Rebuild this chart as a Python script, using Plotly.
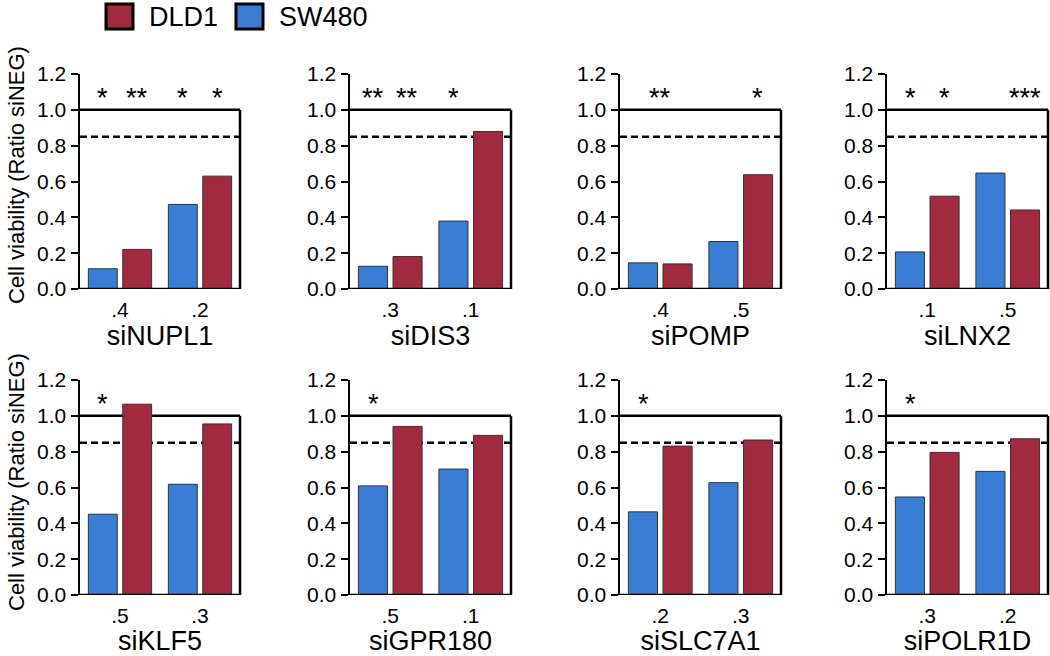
import plotly.graph_objects as go

# ---------------- data ----------------
genes = ["siNUPL1", "siDIS3", "siPOMP", "siLNX2",
         "siKLF5", "siGPR180", "siSLC7A1", "siPOLR1D"]
doses = [[".4", ".2"], [".3", ".1"], [".4", ".5"], [".1", ".5"],
         [".5", ".3"], [".5", ".1"], [".2", ".3"], [".3", ".2"]]
sw480 = [[0.113, 0.472], [0.127, 0.379], [0.146, 0.265], [0.207, 0.647],
         [0.451, 0.618], [0.609, 0.703], [0.464, 0.627], [0.547, 0.690]]
dld1 = [[0.221, 0.630], [0.181, 0.879], [0.140, 0.638], [0.518, 0.441],
        [1.065, 0.955], [0.941, 0.891], [0.831, 0.865], [0.796, 0.872]]
threshold = 0.85
reference_level = 1.0
star_level = 1.1
# significance marks: (dose index, cell line, label)
stars = [
    [(0, "SW480", "*"), (0, "DLD1", "**"), (1, "SW480", "*"), (1, "DLD1", "*")],
    [(0, "SW480", "**"), (0, "DLD1", "**"), (1, "SW480", "*")],
    [(0, "both", "**"), (1, "DLD1", "*")],
    [(0, "SW480", "*"), (0, "DLD1", "*"), (1, "DLD1", "***")],
    [(0, "SW480", "*")],
    [(0, "SW480", "*")],
    [(0, "SW480", "*")],
    [(0, "SW480", "*")],
]
y_ticks = [0.0, 0.2, 0.4, 0.6, 0.8, 1.0, 1.2]
y_title = "Cell viability (Ratio siNEG)"

# ---------------- style ----------------
W, H = 1050, 656
BLUE = "#3a7dd4"
RED = "#a22a3f"
FONT = "Liberation Sans, Arial, sans-serif"
col_px = [(80, 240), (350, 511), (620, 781), (887, 1048)]
row_px = [(74, 289), (380, 595)]
ytitle_center_px = [175, 482]
BAR_HALF_OFFSET = 17.2  # px, centre of each bar within a group

fig = go.Figure()
shapes = []
annotations = []
layout = dict()

for i, gene in enumerate(genes):
    r, c = divmod(i, 4)
    n = "" if i == 0 else str(i + 1)
    xa, ya = "x" + n, "y" + n
    x0p, x1p = col_px[c]
    ytop, ybot = row_px[r]
    layout["xaxis" + n] = dict(
        domain=[x0p / W, x1p / W], anchor=ya, type="category", automargin=False,
        showline=False, showgrid=False, zeroline=False, ticks="",
        ticklabelstandoff=6,
        tickfont=dict(size=21, color="black", family=FONT),
        title=dict(text=gene, font=dict(size=27, color="black", family=FONT), standoff=0),
        fixedrange=True,
    )
    layout["yaxis" + n] = dict(
        domain=[1 - ybot / H, 1 - ytop / H], anchor=xa, range=[0, 1.2], automargin=False,
        showline=True, linewidth=2.5, linecolor="black", showgrid=False,
        zeroline=False, ticks="outside", ticklen=7, tickwidth=2, tickcolor="black",
        tickvals=y_ticks, tickformat=".1f",
        tickfont=dict(size=21, color="black", family=FONT),
        fixedrange=True,
    )
    if c == 0:
        annotations.append(dict(
            x=16 / W, y=1 - ytitle_center_px[r] / H, xref="paper", yref="paper",
            text=y_title, textangle=-90, showarrow=False,
            xanchor="center", yanchor="middle",
            font=dict(size=22, color="black", family=FONT)))

    fig.add_trace(go.Bar(x=doses[i], y=sw480[i], xaxis=xa, yaxis=ya, name="SW480",
                         marker=dict(color=BLUE, line=dict(color="#333333", width=1)),
                         showlegend=False, offsetgroup="sw"))
    fig.add_trace(go.Bar(x=doses[i], y=dld1[i], xaxis=xa, yaxis=ya, name="DLD1",
                         marker=dict(color=RED, line=dict(color="#333333", width=1)),
                         showlegend=False, offsetgroup="dld"))

    # frame: top and dashed line drawn below the bars, bottom/right above
    shapes.append(dict(type="line", xref=xa + " domain", yref=ya, x0=0, x1=1,
                       y0=reference_level, y1=reference_level,
                       line=dict(color="black", width=2.5), layer="below"))
    shapes.append(dict(type="line", xref=xa + " domain", yref=ya, x0=0, x1=1,
                       y0=threshold, y1=threshold,
                       line=dict(color="black", width=2.5, dash="7px,4px"), layer="below"))
    shapes.append(dict(type="line", xref=xa + " domain", yref=ya, x0=1, x1=1,
                       y0=0, y1=reference_level,
                       line=dict(color="black", width=2.5), layer="above"))
    shapes.append(dict(type="line", xref=xa + " domain", yref=ya, x0=0, x1=1,
                       y0=0, y1=0, line=dict(color="black", width=2.5), layer="above"))

    for (di, line, label) in stars[i]:
        shift = {"SW480": -BAR_HALF_OFFSET, "DLD1": BAR_HALF_OFFSET, "both": 0}[line]
        annotations.append(dict(x=di, y=star_level, xref=xa, yref=ya,
                                text=label, showarrow=False, xshift=shift,
                                yanchor="middle", yshift=-6,
                                font=dict(size=27, color="black", family=FONT)))

# legend (drawn manually to match the large outlined swatches)
legend_items = [("DLD1", RED, 106, 147), ("SW480", BLUE, 236, 277)]
for label, color, sx, tx in legend_items:
    shapes.append(dict(type="rect", xref="paper", yref="paper",
                       x0=sx / W, x1=(sx + 27) / W, y0=1 - 29 / H, y1=1 - 4 / H,
                       fillcolor=color, line=dict(color="black", width=3)))
    annotations.append(dict(x=tx / W, y=1 - 17 / H, xref="paper", yref="paper",
                            text=label, showarrow=False, xanchor="left", yanchor="middle",
                            font=dict(size=27, color="black", family=FONT)))

fig.update_layout(
    template="none",
    width=W, height=H, margin=dict(l=0, r=0, t=0, b=0, pad=0),
    paper_bgcolor="white", plot_bgcolor="white",
    barmode="group", bargap=0.14, bargroupgap=0.16,
    shapes=shapes, annotations=annotations, showlegend=False,
    font=dict(family=FONT, color="black"),
    **layout,
)

fig.write_html("out.html",
               config={"displayModeBar": False, "staticPlot": True},
               post_script="document.body.style.margin='0px';"
                           "document.body.style.overflow='hidden';")
